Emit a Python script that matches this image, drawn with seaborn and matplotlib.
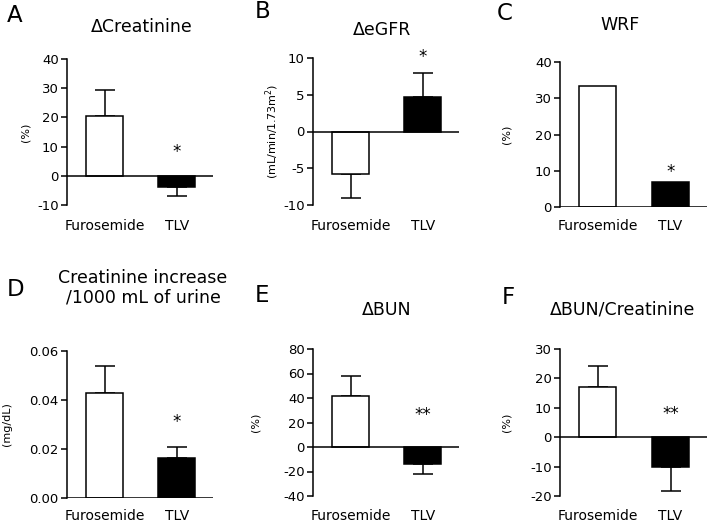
import numpy as np
import matplotlib
matplotlib.use("Agg")
import matplotlib.pyplot as plt
import seaborn as sns

groups = ["Furosemide", "TLV"]

# panel values (mean) and one-sided error bar ends
creat_mean = [20.5, -4.0]
creat_err = [29.5, -7.0]
egfr_mean = [-5.8, 4.7]
egfr_err = [-9.1, 8.0]
wrf_mean = [33.3, 6.8]
wrf_err = [None, None]
cr_urine_mean = [0.043, 0.0165]
cr_urine_err = [0.054, 0.021]
bun_mean = [42.0, -14.0]
bun_err = [58.0, -22.0]
bun_cr_mean = [17.2, -10.0]
bun_cr_err = [24.2, -18.3]

sig = ["*", "*", "*", "*", "**", "**"]
sig_y = [8.2, 10.2, 9.7, 0.031, 26, 7.8]

W, H = 709, 524
sns.set_theme(style="white")
plt.rcParams["font.family"] = ["DejaVu Sans"]
plt.rcParams.update({"text.color": "black", "axes.labelcolor": "black",
                     "xtick.color": "black", "ytick.color": "black"})

fig = plt.figure(figsize=(W / 100, H / 100), dpi=100)


def px_axes(x0, y0, x1, y1):
    return fig.add_axes([x0 / W, 1 - y1 / H, (x1 - x0) / W, (y1 - y0) / H])


def draw_panel(ax, means, errs, ylim, yticks, yfmt, ylabel, lab_x, star, star_y, xpad):
    sns.barplot(x=groups, y=means, hue=groups, palette=["white", "black"],
                edgecolor="black", linewidth=1.1, width=0.51, legend=False,
                ax=ax, zorder=3)
    for i, (m, e) in enumerate(zip(means, errs)):
        if e is None:
            continue
        d = e - m
        yerr = [[0], [d]] if d > 0 else [[-d], [0]]
        ax.errorbar([i], [m], yerr=yerr, fmt="none", ecolor="black",
                    elinewidth=1.1, capsize=7.5, capthick=1.1, zorder=2)
    ax.axhline(0, color="black", lw=1.1, zorder=4)
    ax.set_xlim(-0.52, 1.5)
    ax.set_ylim(*ylim)
    ax.set_yticks(yticks)
    ax.set_yticklabels([yfmt.format(t) for t in yticks])
    for s in ["top", "right", "bottom"]:
        ax.spines[s].set_visible(False)
    ax.spines["left"].set_color("black")
    ax.spines["left"].set_linewidth(1.1)
    ax.tick_params(axis="y", left=True, length=4, width=1.1, color="black",
                   labelsize=9.5, pad=2)
    ax.tick_params(axis="x", bottom=False, labelsize=10, pad=xpad)
    ax.set_ylabel(ylabel, fontsize=8)
    ax.yaxis.set_label_coords(lab_x, 0.5)
    ax.set_xlabel("")
    ax.text(1, star_y, star, ha="center", va="center", fontsize=12)


axA = px_axes(67, 59, 213, 205)
draw_panel(axA, creat_mean, creat_err, (-10, 40), [-10, 0, 10, 20, 30, 40],
           "{:g}", "(%)", -0.25, sig[0], sig_y[0], 4)
axB = px_axes(313, 58, 459, 205)
draw_panel(axB, egfr_mean, egfr_err, (-10, 10), [-10, -5, 0, 5, 10],
           "{:g}", "(mL/min/1.73m$^2$)", -0.22, sig[1], sig_y[1], 4)
axC = px_axes(560, 62, 707, 207)
draw_panel(axC, wrf_mean, wrf_err, (0, 40), [0, 10, 20, 30, 40],
           "{:g}", "(%)", -0.33, sig[2], sig_y[2], 3)
axD = px_axes(67, 351, 213, 498)
draw_panel(axD, cr_urine_mean, cr_urine_err, (0, 0.06), [0.0, 0.02, 0.04, 0.06],
           "{:.2f}", "(mg/dL)", -0.38, sig[3], sig_y[3], 2)
axE = px_axes(313, 349, 459, 496)
draw_panel(axE, bun_mean, bun_err, (-40, 80), [-40, -20, 0, 20, 40, 60, 80],
           "{:g}", "(%)", -0.36, sig[4], sig_y[4], 3)
axF = px_axes(560, 349, 707, 496)
draw_panel(axF, bun_cr_mean, bun_cr_err, (-20, 30), [-20, -10, 0, 10, 20, 30],
           "{:g}", "(%)", -0.33, sig[5], sig_y[5], 3)


def ftext(x, y, s, **kw):
    fig.text(x / W, 1 - y / H, s, **kw)


# panel letters
for lx, ly, l in [(7, 15, "A"), (255, 12, "B"), (497, 14, "C"),
                  (7, 289, "D"), (255, 295, "E"), (502, 297, "F")]:
    ftext(lx, ly, l, fontsize=16.5, ha="left", va="center")

# titles
for tx, ty, t in [(142, 27, "ΔCreatinine"), (382, 30, "ΔeGFR"), (620, 25, "WRF"),
                  (143, 288, "Creatinine increase\n/1000 mL of urine"),
                  (387, 310, "ΔBUN"), (623, 310, "ΔBUN/Creatinine")]:
    ftext(tx, ty, t, fontsize=12.5, ha="center", va="center", linespacing=1.1)

fig.savefig("out.png", dpi=100)
